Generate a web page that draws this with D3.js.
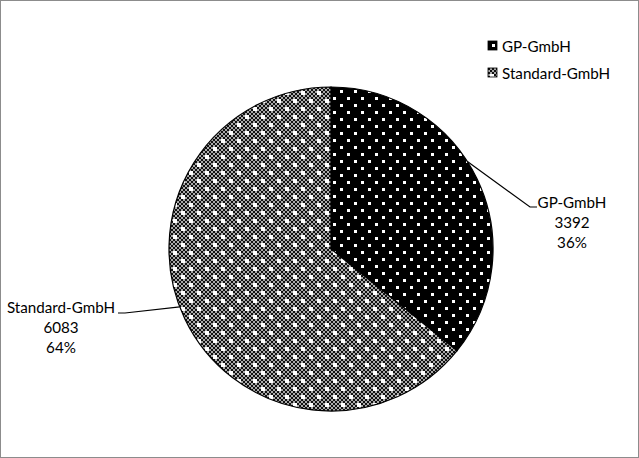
<!DOCTYPE html>
<html><head><meta charset="utf-8">
<script src="https://cdn.jsdelivr.net/npm/d3@7"></script>
<style>html,body{margin:0;padding:0;background:#fff}</style>
</head><body>
<script>
const categories = ["GP-GmbH", "Standard-GmbH"];
const values = [3392, 6083];
const patterns = ["dots", "checker"];

const W = 639, H = 458;
const svg = d3.select("body").append("svg").attr("width", W).attr("height", H);
const defs = svg.append("defs");

// Pattern 1: black with white staggered dots
const p1 = defs.append("pattern").attr("id", "dots").attr("patternUnits", "userSpaceOnUse")
  .attr("width", 14).attr("height", 14);
p1.append("rect").attr("width", 14).attr("height", 14).attr("fill", "#000");
[[2,2],[9,9]].forEach(([x,y]) => p1.append("rect").attr("x", x).attr("y", y).attr("width", 3).attr("height", 3).attr("fill", "#fff"));

// Pattern 2: fine dark checker with white dots
const p2 = defs.append("pattern").attr("id", "checker").attr("patternUnits", "userSpaceOnUse")
  .attr("width", 16).attr("height", 16);
p2.append("rect").attr("width", 16).attr("height", 16).attr("fill", "#111");
for (let i = 0; i < 8; i++) for (let j = 0; j < 8; j++) {
  if ((i + j) % 2 === 1) p2.append("rect").attr("x", i*2 + 0.2).attr("y", j*2 + 0.2).attr("width", 1.6).attr("height", 1.6).attr("fill", "#fff");
}
[[2,2],[10,10]].forEach(([x,y]) => p2.append("rect").attr("x", x).attr("y", y).attr("width", 4).attr("height", 4).attr("fill", "#fff"));

// frame
svg.append("rect").attr("x", 0.5).attr("y", 0.5).attr("width", W-1).attr("height", H-1)
  .attr("fill", "none").attr("stroke", "#8c8c8c").attr("stroke-width", 1);

const cx = 331, cy = 249, R = 162;
const total = d3.sum(values);
const pie = d3.pie().sort(null).value(d => d)(values);
const arc = d3.arc().innerRadius(0).outerRadius(R);
const g = svg.append("g").attr("transform", `translate(${cx},${cy})`);
g.selectAll("path").data(pie).join("path")
  .attr("d", arc).attr("fill", (d,i) => `url(#${patterns[i]})`)
  .attr("stroke", "#000").attr("stroke-width", 1.2);

const font = "Lato, 'Open Sans', sans-serif";
const fs = 15.2;
// labels
const labelPos = [
  {x: 572, y: 208, elbow: [537, 207], mid: [530, 207], frac: 0.445},
  {x: 61, y: 313, elbow: [118, 313], mid: [125, 313], frac: 0.52}
];
pie.forEach((d, i) => {
  const lp = labelPos[i];
  const ang = d3.scaleLinear().domain([0,1]).range([d.startAngle, d.endAngle])(lp.frac);
  const ex = cx + R * Math.sin(ang), ey = cy - R * Math.cos(ang);
  const pts = [[ex, ey], lp.mid, lp.elbow];
  svg.append("polyline").attr("points", pts.map(p => p.join(",")).join(" "))
    .attr("fill", "none").attr("stroke", "#000").attr("stroke-width", 1.2);
  const pct = Math.round(values[i] / total * 100) + "%";
  const t = svg.append("text").attr("font-family", font).attr("font-size", fs)
    .attr("text-anchor", "middle").attr("fill", "#000");
  [categories[i], String(values[i]), pct].forEach((s, k) => {
    t.append("tspan").attr("x", lp.x).attr("y", lp.y + k * 20).text(s);
  });
});

// legend
const leg = svg.append("g");
categories.forEach((c, i) => {
  const y = 41 + i * 27;
  leg.append("rect").attr("x", 488).attr("y", y).attr("width", 9).attr("height", 9)
    .attr("fill", `url(#${patterns[i]})`).attr("stroke", "#000").attr("stroke-width", 0.8);
  leg.append("text").attr("x", 502).attr("y", y + 10.5).attr("font-family", font)
    .attr("font-size", fs).attr("fill", "#000").text(c);
});
</script>
</body></html>
